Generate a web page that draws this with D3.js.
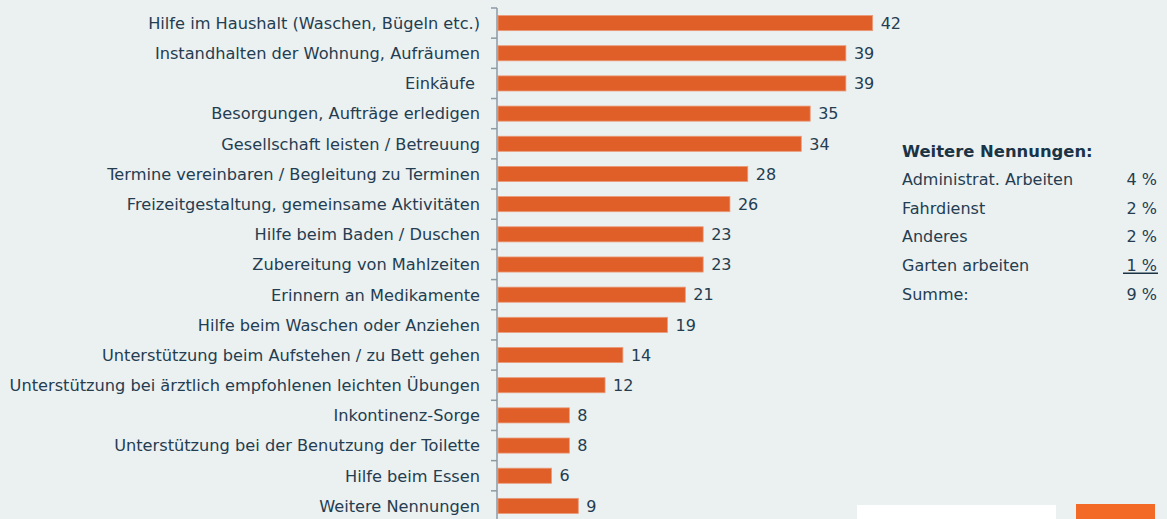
<!DOCTYPE html>
<html>
<head>
<meta charset="utf-8">
<script src="https://cdn.jsdelivr.net/npm/d3@7"></script>
<style>
  html, body { margin: 0; padding: 0; background: #ebf0f1; }
  svg { display: block; }
  text { font-family: "DejaVu Sans", Verdana, sans-serif; fill: #243d50; white-space: pre; }
</style>
</head>
<body>
<svg width="1167" height="519"></svg>
<script>
// Tätigkeiten und Anteile in %
const categories = [
  "Hilfe im Haushalt (Waschen, Bügeln etc.)",
  "Instandhalten der Wohnung, Aufräumen",
  "Einkäufe ",
  "Besorgungen, Aufträge erledigen",
  "Gesellschaft leisten / Betreuung",
  "Termine vereinbaren / Begleitung zu Terminen",
  "Freizeitgestaltung, gemeinsame Aktivitäten",
  "Hilfe beim Baden / Duschen",
  "Zubereitung von Mahlzeiten",
  "Erinnern an Medikamente",
  "Hilfe beim Waschen oder Anziehen",
  "Unterstützung beim Aufstehen / zu Bett gehen",
  "Unterstützung bei ärztlich empfohlenen leichten Übungen",
  "Inkontinenz-Sorge",
  "Unterstützung bei der Benutzung der Toilette",
  "Hilfe beim Essen",
  "Weitere Nennungen"
];
const values = [42, 39, 39, 35, 34, 28, 26, 23, 23, 21, 19, 14, 12, 8, 8, 6, 9];

// Kasten rechts
const moreTitle = "Weitere Nennungen:";
const moreLabels = ["Administrat. Arbeiten", "Fahrdienst", "Anderes", "Garten arbeiten", "Summe:"];
const moreValues = ["4 %", "2 %", "2 %", "1 %", "9 %"];

const svg = d3.select("svg");
const g = svg.append("g");

const axisX = 497;
var x = d3.scaleLinear().domain([0, 45]).range([axisX + 1, axisX + 1 + 45 * 8.92]);
var y = d3.scaleBand().domain(categories).range([8, 521]).paddingInner(0.5).paddingOuter(0.25);

// bars
g.selectAll("rect.bar")
  .data(values)
  .enter()
  .append("rect")
  .attr("class", "bar")
  .attr("x", x(0))
  .attr("y", (d, i) => y(categories[i]))
  .attr("width", d => x(d) - x(0))
  .attr("height", y.bandwidth())
  .style("fill", "#e05f28")
  .style("stroke", "#eb9a78")
  .style("stroke-width", 0.8);

// value labels
g.selectAll("text.val")
  .data(values)
  .enter()
  .append("text")
  .attr("class", "val")
  .attr("x", d => x(d) + 8)
  .attr("y", (d, i) => y(categories[i]) + y.bandwidth() / 2)
  .attr("dy", "0.36em")
  .attr("font-size", "16px")
  .text(d => d);

// category labels
g.selectAll("text.cat")
  .data(categories)
  .enter()
  .append("text")
  .attr("class", "cat")
  .attr("x", 480)
  .attr("y", d => y(d) + y.bandwidth() / 2)
  .attr("dy", "0.36em")
  .attr("text-anchor", "end")
  .attr("font-size", "16.2px")
  .text(d => d);

// axis line with ticks between the rows
const step = y.step();
const tickYs = categories.map(d => y(d) - (step - y.bandwidth()) / 2);
g.append("line")
  .attr("x1", axisX).attr("x2", axisX)
  .attr("y1", tickYs[0]).attr("y2", 519)
  .style("stroke", "#8c9aa3").style("stroke-width", 1.5);
g.selectAll("line.tick")
  .data(tickYs)
  .enter()
  .append("line")
  .attr("class", "tick")
  .attr("x1", axisX - 6).attr("x2", axisX)
  .attr("y1", d => d).attr("y2", d => d)
  .style("stroke", "#8c9aa3").style("stroke-width", 1.5);

// Kasten "Weitere Nennungen"
const box = svg.append("g");
box.append("text")
  .attr("x", 902).attr("y", 157)
  .attr("font-size", "16.4px")
  .attr("font-weight", "bold")
  .style("fill", "#1a3446")
  .text(moreTitle);
const rowY = d3.scalePoint().domain(moreLabels).range([179, 294]);
box.selectAll("text.ml")
  .data(moreLabels)
  .enter()
  .append("text")
  .attr("x", 902)
  .attr("y", d => rowY(d))
  .attr("dy", "0.36em")
  .attr("font-size", "16px")
  .text(d => d);
box.selectAll("text.mv")
  .data(moreValues)
  .enter()
  .append("text")
  .attr("x", 1157)
  .attr("y", (d, i) => rowY(moreLabels[i]))
  .attr("dy", "0.36em")
  .attr("text-anchor", "end")
  .attr("font-size", "16px")
  .text(d => d);
box.append("line")
  .attr("x1", 1123).attr("x2", 1158)
  .attr("y1", rowY(moreLabels[3]) + 8).attr("y2", rowY(moreLabels[3]) + 8)
  .style("stroke", "#1a3446").style("stroke-width", 1.5);

// Logo-Reste unten rechts
svg.append("rect").attr("x", 857).attr("y", 505).attr("width", 199).attr("height", 14).style("fill", "#ffffff");
svg.append("rect").attr("x", 1076).attr("y", 504).attr("width", 79).attr("height", 15).style("fill", "#f26a25");
</script>
</body>
</html>
